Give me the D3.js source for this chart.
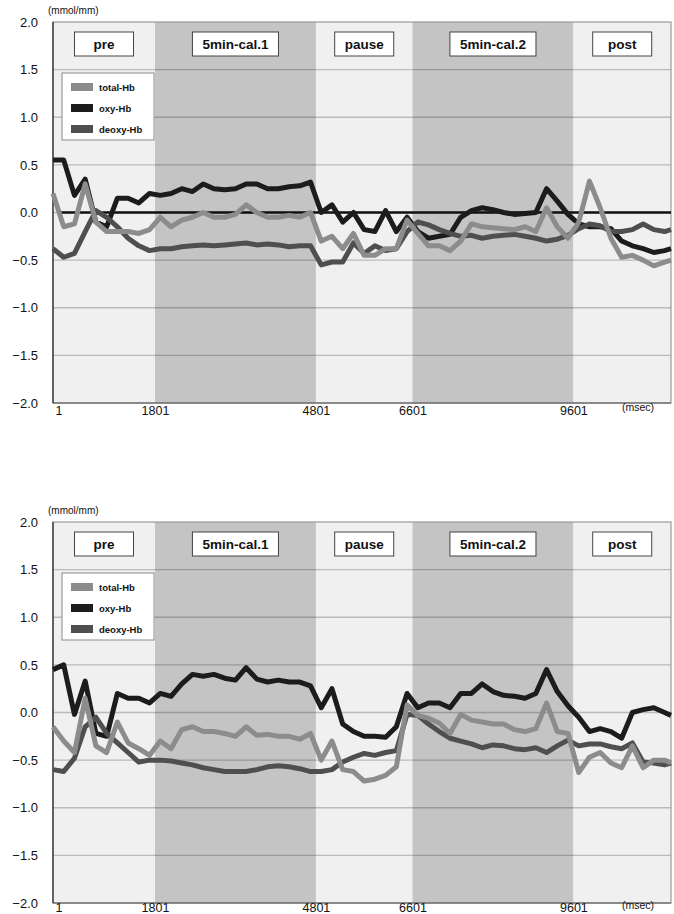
<!DOCTYPE html>
<html>
<head>
<meta charset="utf-8">
<script src="https://cdn.jsdelivr.net/npm/d3@7"></script>
<style>
  body { margin: 0; background: #fff; }
  svg { display: block; font-family: "Liberation Sans", Arial, sans-serif; }
</style>
</head>
<body>
<div id="chart"></div>
<script>
// sample times (msec)
const times = [-100, 100, 300, 500, 700, 900, 1100, 1300, 1500, 1700, 1900, 2100, 2300, 2500,
  2700, 2900, 3100, 3300, 3500, 3700, 3900, 4100, 4300, 4500, 4700, 4900, 5100, 5300, 5500,
  5700, 5900, 6100, 6300, 6500, 6700, 6900, 7100, 7300, 7500, 7700, 7900, 8100, 8300, 8500,
  8700, 8900, 9100, 9300, 9500, 9700, 9900, 10100, 10300, 10500, 10700, 10900, 11100, 11300, 11420];

const xTicks = [1, 1801, 4801, 6601, 9601];
const phaseBounds = [-100, 1801, 4801, 6601, 9601, 11420];
const phaseNames = ["pre", "5min-cal.1", "pause", "5min-cal.2", "post"];
const phaseShaded = [false, true, false, true, false];
const yTicks = [2.0, 1.5, 1.0, 0.5, 0.0, -0.5, -1.0, -1.5, -2.0];
const seriesNames = ["total-Hb", "oxy-Hb", "deoxy-Hb"];
const seriesColors = ["#8c8c8c", "#1c1c1c", "#4f4f4f"];

// chart 1
const total1 = [0.2, -0.15, -0.12, 0.3, -0.1, -0.2, -0.2, -0.2, -0.22, -0.18, -0.05, -0.15, -0.08, -0.05,
  0.0, -0.05, -0.05, -0.02, 0.08, 0.0, -0.05, -0.05, -0.03, -0.05, 0.0, -0.3, -0.25, -0.38, -0.22,
  -0.45, -0.45, -0.38, -0.38, -0.08, -0.22, -0.35, -0.35, -0.4, -0.3, -0.12, -0.15, -0.16, -0.17,
  -0.18, -0.15, -0.2, 0.05, -0.15, -0.27, -0.1, 0.33, 0.05, -0.27, -0.47, -0.45, -0.5, -0.56, -0.52, -0.5];
const oxy1 = [0.55, 0.55, 0.18, 0.35, -0.1, -0.15, 0.15, 0.15, 0.1, 0.2, 0.18, 0.2, 0.25, 0.22,
  0.3, 0.25, 0.24, 0.25, 0.3, 0.3, 0.25, 0.25, 0.27, 0.28, 0.32, 0.0, 0.08, -0.1, 0.0,
  -0.18, -0.2, 0.02, -0.2, -0.05, -0.2, -0.27, -0.25, -0.23, -0.05, 0.02, 0.05, 0.03, 0.0,
  -0.02, -0.01, 0.0, 0.25, 0.12, -0.02, -0.12, -0.15, -0.15, -0.17, -0.3, -0.35, -0.38, -0.42, -0.4, -0.38];
const deoxy1 = [-0.38, -0.47, -0.43, -0.2, 0.02, -0.05, -0.15, -0.27, -0.35, -0.4, -0.38, -0.38, -0.36, -0.35,
  -0.34, -0.35, -0.34, -0.33, -0.32, -0.34, -0.33, -0.34, -0.36, -0.35, -0.35, -0.55, -0.52, -0.52, -0.32,
  -0.43, -0.35, -0.4, -0.38, -0.2, -0.1, -0.13, -0.18, -0.22, -0.25, -0.24, -0.27, -0.25, -0.24,
  -0.23, -0.25, -0.27, -0.3, -0.28, -0.24, -0.17, -0.12, -0.14, -0.2, -0.2, -0.18, -0.12, -0.18, -0.2, -0.18];
const zeroTimes = [1, 11420];
const zeroValues = [0, 0];

// chart 2
const total2 = [-0.15, -0.3, -0.42, 0.15, -0.35, -0.42, -0.1, -0.32, -0.38, -0.45, -0.3, -0.38, -0.18, -0.15,
  -0.2, -0.2, -0.22, -0.25, -0.15, -0.24, -0.23, -0.25, -0.25, -0.28, -0.22, -0.5, -0.3, -0.6, -0.62,
  -0.72, -0.7, -0.66, -0.57, 0.08, -0.03, -0.06, -0.11, -0.22, -0.02, -0.08, -0.1, -0.12, -0.12,
  -0.18, -0.2, -0.17, 0.1, -0.2, -0.22, -0.63, -0.47, -0.42, -0.53, -0.58, -0.35, -0.58, -0.5, -0.5, -0.53];
const oxy2 = [0.45, 0.5, -0.02, 0.33, -0.22, -0.25, 0.2, 0.15, 0.15, 0.1, 0.2, 0.17, 0.3, 0.4,
  0.38, 0.4, 0.36, 0.34, 0.47, 0.35, 0.32, 0.34, 0.32, 0.32, 0.28, 0.05, 0.25, -0.12, -0.2,
  -0.25, -0.25, -0.26, -0.15, 0.2, 0.05, 0.1, 0.1, 0.05, 0.2, 0.2, 0.3, 0.22, 0.18,
  0.17, 0.15, 0.2, 0.45, 0.22, 0.07, -0.05, -0.2, -0.17, -0.2, -0.27, 0.0, 0.03, 0.05, 0.0, -0.03];
const deoxy2 = [-0.6, -0.62, -0.48, -0.15, -0.05, -0.22, -0.32, -0.42, -0.52, -0.5, -0.5, -0.51, -0.53, -0.55,
  -0.58, -0.6, -0.62, -0.62, -0.62, -0.6, -0.57, -0.56, -0.57, -0.59, -0.62, -0.62, -0.6, -0.52, -0.47,
  -0.43, -0.45, -0.42, -0.4, -0.02, -0.03, -0.12, -0.2, -0.27, -0.3, -0.33, -0.37, -0.34, -0.35,
  -0.38, -0.39, -0.37, -0.42, -0.35, -0.29, -0.35, -0.33, -0.33, -0.36, -0.38, -0.32, -0.52, -0.53, -0.55, -0.53];

const W = 674, H = 914;
const plot = { left: 53, right: 671, top: 22, bottom: 403 };

const svg = d3.select("#chart").append("svg")
  .attr("width", W)
  .attr("height", H);

const x = d3.scaleLinear()
  .domain([phaseBounds[0], phaseBounds[phaseBounds.length - 1]])
  .range([plot.left, plot.right]);

const y = d3.scaleLinear()
  .domain([-2, 2])
  .range([plot.bottom, plot.top]);

function drawChart(offsetY, series, showZero, labelPad) {
  const g = svg.append("g").attr("transform", "translate(0," + offsetY + ")");

  // phase backgrounds
  g.selectAll("rect.phase")
    .data(phaseNames)
    .enter()
    .append("rect")
    .attr("class", "phase")
    .attr("x", (d, i) => x(phaseBounds[i]))
    .attr("y", plot.top)
    .attr("width", (d, i) => x(phaseBounds[i + 1]) - x(phaseBounds[i]))
    .attr("height", plot.bottom - plot.top)
    .attr("fill", (d, i) => phaseShaded[i] ? "#c4c4c4" : "#f0f0f0");

  // gridlines
  g.selectAll("line.grid")
    .data(yTicks.filter(v => v > -2 && v < 2))
    .enter()
    .append("line")
    .attr("x1", plot.left).attr("x2", plot.right)
    .attr("y1", d => y(d)).attr("y2", d => y(d))
    .attr("stroke", "rgba(0,0,0,0.22)")
    .attr("stroke-width", 1.3);

  // frame
  g.append("rect")
    .attr("x", plot.left).attr("y", plot.top)
    .attr("width", plot.right - plot.left).attr("height", plot.bottom - plot.top)
    .attr("fill", "none").attr("stroke", "#9a9a9a").attr("stroke-width", 1.2);
  g.append("line")
    .attr("x1", plot.left).attr("x2", plot.left)
    .attr("y1", plot.top).attr("y2", plot.bottom)
    .attr("stroke", "#222").attr("stroke-width", 1.2);
  g.append("line")
    .attr("x1", plot.left).attr("x2", plot.right)
    .attr("y1", plot.bottom).attr("y2", plot.bottom)
    .attr("stroke", "#555").attr("stroke-width", 1.2);

  // axes
  const yAxis = d3.axisLeft(y).tickValues(yTicks).tickSize(0).tickPadding(15)
    .tickFormat(d3.format(".1f"));
  const ya = g.append("g").attr("transform", "translate(" + plot.left + ",0)").call(yAxis);
  ya.select(".domain").remove();
  ya.selectAll("text").attr("font-size", 13).attr("fill", "#111")
    .attr("font-family", "'Liberation Sans', Arial, sans-serif");

  const xAxis = d3.axisBottom(x).tickValues(xTicks).tickSize(0).tickPadding(labelPad)
    .tickFormat(d3.format("d"));
  const xa = g.append("g").attr("transform", "translate(0," + plot.bottom + ")").call(xAxis);
  xa.select(".domain").remove();
  xa.selectAll("text").attr("font-size", 12.5).attr("fill", "#111")
    .attr("font-family", "'Liberation Sans', Arial, sans-serif");

  g.append("text").attr("x", 48).attr("y", 14)
    .attr("font-size", 10).attr("fill", "#111").text("(mmol/mm)");
  g.append("text").attr("x", 622).attr("y", 408 + labelPad)
    .attr("font-size", 10.5).attr("fill", "#111").text("(msec)");

  // zero reference line
  const line = d3.line().x(d => x(d[0])).y(d => y(d[1]));
  if (showZero) {
    g.append("path")
      .datum(zeroTimes.map((t, i) => [t, zeroValues[i]]))
      .attr("d", line)
      .attr("fill", "none").attr("stroke", "#111").attr("stroke-width", 2.5);
  }

  // series lines (oxy, deoxy, then total on top)
  [1, 2, 0].forEach(function(k) {
    g.append("path")
      .datum(times.map((t, i) => [t, series[k][i]]))
      .attr("d", line)
      .attr("fill", "none")
      .attr("stroke", seriesColors[k])
      .attr("stroke-width", 5)
      .attr("stroke-linejoin", "round");
  });

  // phase labels
  phaseNames.forEach(function(name, i) {
    const cx = x((phaseBounds[i] + phaseBounds[i + 1]) / 2);
    const lab = g.append("g");
    const t = lab.append("text")
      .attr("x", cx).attr("y", 44)
      .attr("text-anchor", "middle")
      .attr("dominant-baseline", "central")
      .attr("font-size", 13.5).attr("font-weight", "bold").attr("fill", "#111")
      .text(name);
    const w = Math.max(59, t.node().getComputedTextLength() + 20);
    lab.insert("rect", "text")
      .attr("x", cx - w / 2).attr("y", 32)
      .attr("width", w).attr("height", 24)
      .attr("fill", "#fff").attr("stroke", "#444").attr("stroke-width", 1);
  });

  // legend
  const lg = g.append("g");
  lg.append("rect")
    .attr("x", 62).attr("y", 73).attr("width", 92).attr("height", 67)
    .attr("fill", "#fff").attr("stroke", "#8a8a8a").attr("stroke-width", 1);
  seriesNames.forEach(function(name, k) {
    const cy = 87 + k * 21;
    lg.append("rect")
      .attr("x", 71).attr("y", cy - 4).attr("width", 22).attr("height", 8)
      .attr("fill", seriesColors[k]);
    lg.append("text")
      .attr("x", 99).attr("y", cy)
      .attr("dominant-baseline", "central")
      .attr("font-size", 9.5).attr("font-weight", "bold").attr("fill", "#111")
      .text(name);
  });
}

drawChart(0, [total1, oxy1, deoxy1], true, 3);
drawChart(500, [total2, oxy2, deoxy2], false, 0.5);
</script>
</body>
</html>
